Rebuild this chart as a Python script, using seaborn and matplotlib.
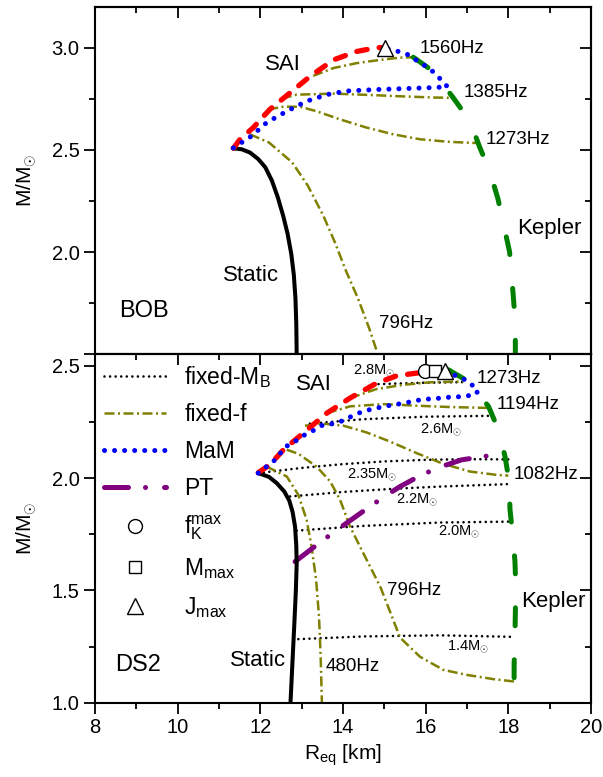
import matplotlib
matplotlib.use("Agg")
import matplotlib.pyplot as plt
from matplotlib.lines import Line2D
from matplotlib.ticker import MultipleLocator, FuncFormatter
import seaborn as sns

sns.set_theme(style="ticks")
plt.rcParams["font.family"] = ["Liberation Sans", "DejaVu Sans"]
plt.rcParams["mathtext.fontset"] = "custom"
plt.rcParams["mathtext.rm"] = "Liberation Sans"
plt.rcParams["mathtext.it"] = "Liberation Sans:italic"
plt.rcParams["text.color"] = "black"
plt.rcParams["axes.labelcolor"] = "black"
plt.rcParams["xtick.color"] = "black"
plt.rcParams["ytick.color"] = "black"

# ---------------- BOB (top panel) ----------------
bob_static_r = [11.33, 11.55, 11.75, 11.95, 12.12, 12.28, 12.42, 12.55, 12.66, 12.75, 12.81, 12.85, 12.87, 12.88]
bob_static_m = [2.508, 2.503, 2.487, 2.455, 2.415, 2.35, 2.27, 2.18, 2.09, 1.99, 1.89, 1.775, 1.65, 1.50]

bob_sai_r = [11.35, 11.51, 11.83, 12.23, 12.72, 13.20, 13.77, 14.33, 14.82, 15.02]
bob_sai_m = [2.508, 2.552, 2.609, 2.698, 2.779, 2.859, 2.940, 2.981, 3.000, 3.000]

bob_mam_r = [11.35, 11.79, 12.15, 12.64, 13.12, 13.61, 14.09, 14.82, 15.54, 16.10, 16.53,
             16.31, 16.11, 15.82, 15.58, 15.34, 15.02]
bob_mam_m = [2.51, 2.568, 2.633, 2.689, 2.738, 2.770, 2.788, 2.795, 2.80, 2.804, 2.808,
             2.856, 2.895, 2.932, 2.965, 2.981, 2.997]

bob_f1560_r = [13.28, 13.77, 14.33, 14.90, 15.38, 15.70]
bob_f1560_m = [2.862, 2.90, 2.924, 2.940, 2.951, 2.953]
bob_f1385_r = [12.52, 12.88, 13.77, 14.57, 15.38, 16.19, 16.71]
bob_f1385_m = [2.751, 2.770, 2.775, 2.769, 2.762, 2.756, 2.754]
bob_f1273_r = [12.19, 12.56, 12.96, 13.36, 13.93, 14.57, 15.22, 15.86, 16.59, 17.31]
bob_f1273_m = [2.698, 2.711, 2.711, 2.689, 2.649, 2.609, 2.576, 2.552, 2.539, 2.533]
bob_f796_r = [11.75, 12.21, 12.77, 13.15, 13.52, 13.80, 14.08, 14.36, 14.63, 14.82]
bob_f796_m = [2.576, 2.536, 2.439, 2.325, 2.18, 2.05, 1.905, 1.775, 1.63, 1.515]

bob_kepler_r = [15.70, 16.19, 16.67, 17.07, 17.31, 17.56, 17.75, 17.89, 18.03, 18.08, 18.13, 18.17, 18.17]
bob_kepler_m = [2.953, 2.883, 2.754, 2.641, 2.512, 2.39, 2.26, 2.131, 2.002, 1.888, 1.759, 1.646, 1.50]

bob_jmax = (15.02, 2.997)

# ---------------- DS2 (bottom panel) ----------------
ds2_static_r = [11.95, 12.21, 12.40, 12.58, 12.70, 12.78, 12.84, 12.87, 12.88, 12.86, 12.82, 12.78, 12.73]
ds2_static_m = [2.022, 2.005, 1.977, 1.94, 1.90, 1.85, 1.784, 1.70, 1.62, 1.50, 1.34, 1.19, 1.0]

ds2_sai_r = [11.95, 12.23, 12.56, 13.04, 13.61, 14.17, 14.82, 15.30, 15.78, 16.0]
ds2_sai_m = [2.024, 2.059, 2.126, 2.20, 2.289, 2.356, 2.423, 2.455, 2.467, 2.472]

ds2_mam_r = [11.95, 12.15, 12.36, 12.60, 12.84, 13.08, 13.32, 13.52, 13.77, 14.01, 14.25, 14.49,
             14.73, 14.98, 15.22, 15.50, 15.74, 15.98, 16.23, 16.47, 16.71, 16.95, 17.20, 17.27,
             17.03, 16.79, 16.50]
ds2_mam_m = [2.022, 2.051, 2.081, 2.138, 2.163, 2.193, 2.215, 2.237, 2.242, 2.256, 2.279, 2.297,
             2.308, 2.318, 2.326, 2.334, 2.344, 2.351, 2.353, 2.359, 2.36, 2.365, 2.37, 2.389,
             2.43, 2.452, 2.47]

ds2_f1273_r = [14.17, 14.81, 15.46, 16.10, 16.91]
ds2_f1273_m = [2.356, 2.396, 2.415, 2.426, 2.43]
ds2_f1194_r = [13.61, 14.17, 14.98, 15.78, 16.59, 17.52]
ds2_f1194_m = [2.289, 2.319, 2.329, 2.322, 2.316, 2.312]
ds2_f1082_r = [13.08, 13.52, 14.01, 14.57, 15.13, 15.78, 16.43, 17.07, 17.72, 18.0]
ds2_f1082_m = [2.233, 2.242, 2.233, 2.203, 2.163, 2.111, 2.063, 2.029, 2.014, 2.011]
ds2_f796_r = [12.64, 12.92, 13.36, 13.69, 13.93, 14.17, 14.49, 14.90, 15.15, 15.38, 15.86, 16.43, 16.99, 17.64, 18.16]
ds2_f796_m = [2.126, 2.108, 2.051, 1.985, 1.903, 1.784, 1.666, 1.517, 1.40, 1.29, 1.205, 1.146, 1.124, 1.105, 1.094]
ds2_f480_r = [12.15, 12.64, 12.92, 13.12, 13.24, 13.35, 13.42, 13.46, 13.49]
ds2_f480_m = [2.051, 2.007, 1.925, 1.814, 1.695, 1.547, 1.383, 1.205, 1.0]

ds2_mb28_r = [14.86, 15.9, 16.99]
ds2_mb28_m = [2.418, 2.424, 2.427]
ds2_mb26_r = [13.20, 14.5, 16.0, 17.6]
ds2_mb26_m = [2.242, 2.262, 2.273, 2.277]
ds2_mb235_r = [11.95, 13.0, 14.0, 15.0, 16.0, 17.0, 18.0]
ds2_mb235_m = [2.022, 2.045, 2.062, 2.074, 2.081, 2.084, 2.083]
ds2_mb22_r = [12.72, 14.0, 15.2, 16.35, 18.0]
ds2_mb22_m = [1.918, 1.938, 1.952, 1.962, 1.973]
ds2_mb20_r = [12.88, 14.5, 16.35, 18.0]
ds2_mb20_m = [1.766, 1.787, 1.802, 1.806]
ds2_mb14_r = [12.92, 14.5, 16.35, 18.16]
ds2_mb14_m = [1.283, 1.295, 1.300, 1.293]

ds2_pt_r = [12.84, 13.40, 13.69, 14.09, 14.65, 14.98, 15.38, 15.90, 16.35, 16.87, 17.52]
ds2_pt_m = [1.628, 1.707, 1.747, 1.80, 1.873, 1.915, 1.962, 2.014, 2.049, 2.081, 2.099]

ds2_kepler_r = [16.55, 17.03, 17.52, 17.76, 17.92, 18.02, 18.04, 18.10, 18.16, 18.18, 18.17, 18.16, 18.14, 18.14]
ds2_kepler_m = [2.482, 2.43, 2.319, 2.215, 2.096, 1.985, 1.86, 1.755, 1.63, 1.52, 1.40, 1.30, 1.17, 1.06]

ds2_fkmax = (15.98, 2.475)
ds2_mmax = (16.23, 2.478)
ds2_jmax = (16.47, 2.476)

# ---------------- styles ----------------
OLIVE = "#808000"
static_style = dict(color="black", linewidth=2.9, zorder=4)
sai_style = dict(color="#ff0000", linewidth=3.8, linestyle=(0, (2.0, 2.3)),
                 dash_capstyle="round", zorder=4)
mam_style = dict(color="#0000ff", linewidth=3.6, linestyle=(0, (0.01, 2.0)),
                 dash_capstyle="round", zorder=5)
fixf_style = dict(color=OLIVE, linewidth=1.8, linestyle=(0, (4, 1.4, 0.8, 1.4)), zorder=2)
fixmb_style = dict(color="black", linewidth=1.9, linestyle=(0, (0.01, 2.1)),
                   dash_capstyle="round", zorder=1)
kepler_style = dict(color="#008000", linewidth=3.6, linestyle=(0, (3.6, 6.8)),
                    dash_capstyle="round", zorder=3)
pt_style = dict(color="#800080", linewidth=3.6, linestyle=(0, (4.8, 3.4, 0.01, 3.8)),
                dash_capstyle="round", zorder=3)
marker_kw = dict(markerfacecolor="white", markeredgecolor="black", markeredgewidth=1.0,
                 linestyle="none", zorder=6)


def draw(ax, r, m, style):
    sns.lineplot(x=r, y=m, ax=ax, sort=False, estimator=None, **style)


def style_axes(ax, ymin, ymax):
    ax.set_xlim(8, 20)
    ax.set_ylim(ymin, ymax)
    ax.xaxis.set_major_locator(MultipleLocator(2))
    ax.xaxis.set_minor_locator(MultipleLocator(1))
    ax.yaxis.set_major_locator(MultipleLocator(0.5))
    ax.yaxis.set_minor_locator(MultipleLocator(0.25))
    ax.tick_params(which="both", direction="out", top=False, right=False,
                   width=1.3, labelsize=14.5, colors="black", pad=3)
    ax.tick_params(which="major", length=8)
    ax.tick_params(which="minor", length=4)
    for sp in ax.spines.values():
        sp.set_visible(True)
        sp.set_linewidth(1.5)
        sp.set_color("black")
    sx = ax.secondary_xaxis("top")
    sx.xaxis.set_major_locator(MultipleLocator(2))
    sx.xaxis.set_minor_locator(MultipleLocator(1))
    sx.tick_params(which="both", direction="in", labeltop=False, width=1.3)
    sx.tick_params(which="major", length=8)
    sx.tick_params(which="minor", length=4)
    sy = ax.secondary_yaxis("right")
    sy.yaxis.set_major_locator(MultipleLocator(0.5))
    sy.yaxis.set_minor_locator(MultipleLocator(0.25))
    sy.tick_params(which="both", direction="in", labelright=False, width=1.3)
    sy.tick_params(which="major", length=8)
    sy.tick_params(which="minor", length=4)
    for s in (sx, sy):
        for sp in s.spines.values():
            sp.set_linewidth(1.5)
    ax.set_ylabel(r"M/M$_{\odot}$", fontsize=15, labelpad=9)


fig = plt.figure(figsize=(6.03, 7.77), dpi=100)
ax1 = fig.add_axes([0.1575, 0.5438, 0.8226, 0.4476])
ax2 = fig.add_axes([0.1575, 0.0956, 0.8226, 0.4482])
for a in (ax1, ax2):
    a.set_facecolor("white")
fig.patch.set_facecolor("white")

# top panel
draw(ax1, bob_f1560_r, bob_f1560_m, fixf_style)
draw(ax1, bob_f1385_r, bob_f1385_m, fixf_style)
draw(ax1, bob_f1273_r, bob_f1273_m, fixf_style)
draw(ax1, bob_f796_r, bob_f796_m, fixf_style)
draw(ax1, bob_kepler_r, bob_kepler_m, kepler_style)
draw(ax1, bob_static_r, bob_static_m, static_style)
draw(ax1, bob_sai_r, bob_sai_m, sai_style)
draw(ax1, bob_mam_r, bob_mam_m, mam_style)
ax1.plot(*bob_jmax, marker="^", markersize=12, **marker_kw)

style_axes(ax1, 1.5, 3.2)
ax1.tick_params(labelbottom=False)
ax1.set_xlabel("")
ax1.yaxis.set_major_formatter(FuncFormatter(lambda v, p: "" if v < 1.9 else f"{v:.1f}"))

big = 16
hz = 13.5
ax1.text(12.11, 2.916, "SAI", fontsize=big, va="center")
ax1.text(11.10, 1.888, "Static", fontsize=big, va="center")
ax1.text(8.58, 1.712, "BOB", fontsize=17, va="center")
ax1.text(18.21, 2.115, "Kepler", fontsize=big, va="center")
ax1.text(15.86, 2.997, "1560Hz", fontsize=hz, va="center")
ax1.text(16.91, 2.779, "1385Hz", fontsize=hz, va="center")
ax1.text(17.46, 2.549, "1273Hz", fontsize=hz, va="center")
ax1.text(14.87, 1.649, "796Hz", fontsize=hz, va="center")

# bottom panel
for r, m in [(ds2_mb28_r, ds2_mb28_m), (ds2_mb26_r, ds2_mb26_m), (ds2_mb235_r, ds2_mb235_m),
             (ds2_mb22_r, ds2_mb22_m), (ds2_mb20_r, ds2_mb20_m), (ds2_mb14_r, ds2_mb14_m)]:
    draw(ax2, r, m, fixmb_style)
for r, m in [(ds2_f1273_r, ds2_f1273_m), (ds2_f1194_r, ds2_f1194_m), (ds2_f1082_r, ds2_f1082_m),
             (ds2_f796_r, ds2_f796_m), (ds2_f480_r, ds2_f480_m)]:
    draw(ax2, r, m, fixf_style)
draw(ax2, ds2_kepler_r, ds2_kepler_m, kepler_style)
draw(ax2, ds2_pt_r, ds2_pt_m, pt_style)
draw(ax2, ds2_static_r, ds2_static_m, static_style)
draw(ax2, ds2_sai_r, ds2_sai_m, sai_style)
draw(ax2, ds2_mam_r, ds2_mam_m, mam_style)
ax2.plot(*ds2_fkmax, marker="o", markersize=10, **marker_kw)
ax2.plot(*ds2_mmax, marker="s", markersize=9, **marker_kw)
ax2.plot(*ds2_jmax, marker="^", markersize=11, **marker_kw)

style_axes(ax2, 1.0, 2.55)
ax2.set_xlabel(r"R$_{\mathrm{eq}}$ [km]", fontsize=15, labelpad=4)

small = 10.5
ax2.text(12.86, 2.415, "SAI", fontsize=big, va="center")
ax2.text(11.26, 1.19, "Static", fontsize=big, va="center")
ax2.text(8.49, 1.168, "DS2", fontsize=17, va="center")
ax2.text(18.30, 1.45, "Kepler", fontsize=big, va="center")
ax2.text(17.24, 2.445, "1273Hz", fontsize=hz, va="center")
ax2.text(17.72, 2.326, "1194Hz", fontsize=hz, va="center")
ax2.text(18.12, 2.014, "1082Hz", fontsize=hz, va="center")
ax2.text(15.06, 1.50, "796Hz", fontsize=hz, va="center")
ax2.text(13.57, 1.16, "480Hz", fontsize=hz, va="center")
ax2.text(14.25, 2.479, r"2.8M$_{\odot}$", fontsize=small, va="center")
ax2.text(15.86, 2.215, r"2.6M$_{\odot}$", fontsize=small, va="center")
ax2.text(14.09, 2.014, r"2.35M$_{\odot}$", fontsize=small, va="center")
ax2.text(15.28, 1.903, r"2.2M$_{\odot}$", fontsize=small, va="center")
ax2.text(16.31, 1.762, r"2.0M$_{\odot}$", fontsize=small, va="center")
ax2.text(16.51, 1.25, r"1.4M$_{\odot}$", fontsize=small, va="center")

handles = [
    Line2D([], [], **fixmb_style),
    Line2D([], [], **fixf_style),
    Line2D([], [], **mam_style),
    Line2D([], [], **pt_style),
    Line2D([], [], marker="o", markersize=10, **marker_kw),
    Line2D([], [], marker="s", markersize=9, **marker_kw),
    Line2D([], [], marker="^", markersize=11, **marker_kw),
]
labels = [r"fixed-M$_{\mathrm{B}}$", "fixed-f", "MaM", "PT",
          r"f$_{\mathrm{K}}^{\mathrm{max}}$", r"M$_{\mathrm{max}}$", r"J$_{\mathrm{max}}$"]
ax2.legend(handles, labels, loc="upper left", frameon=False, fontsize=16.5,
           handlelength=2.7, handletextpad=0.8, labelspacing=0.6,
           borderaxespad=0.1, borderpad=0.3)

fig.savefig("out.png", dpi=100)
